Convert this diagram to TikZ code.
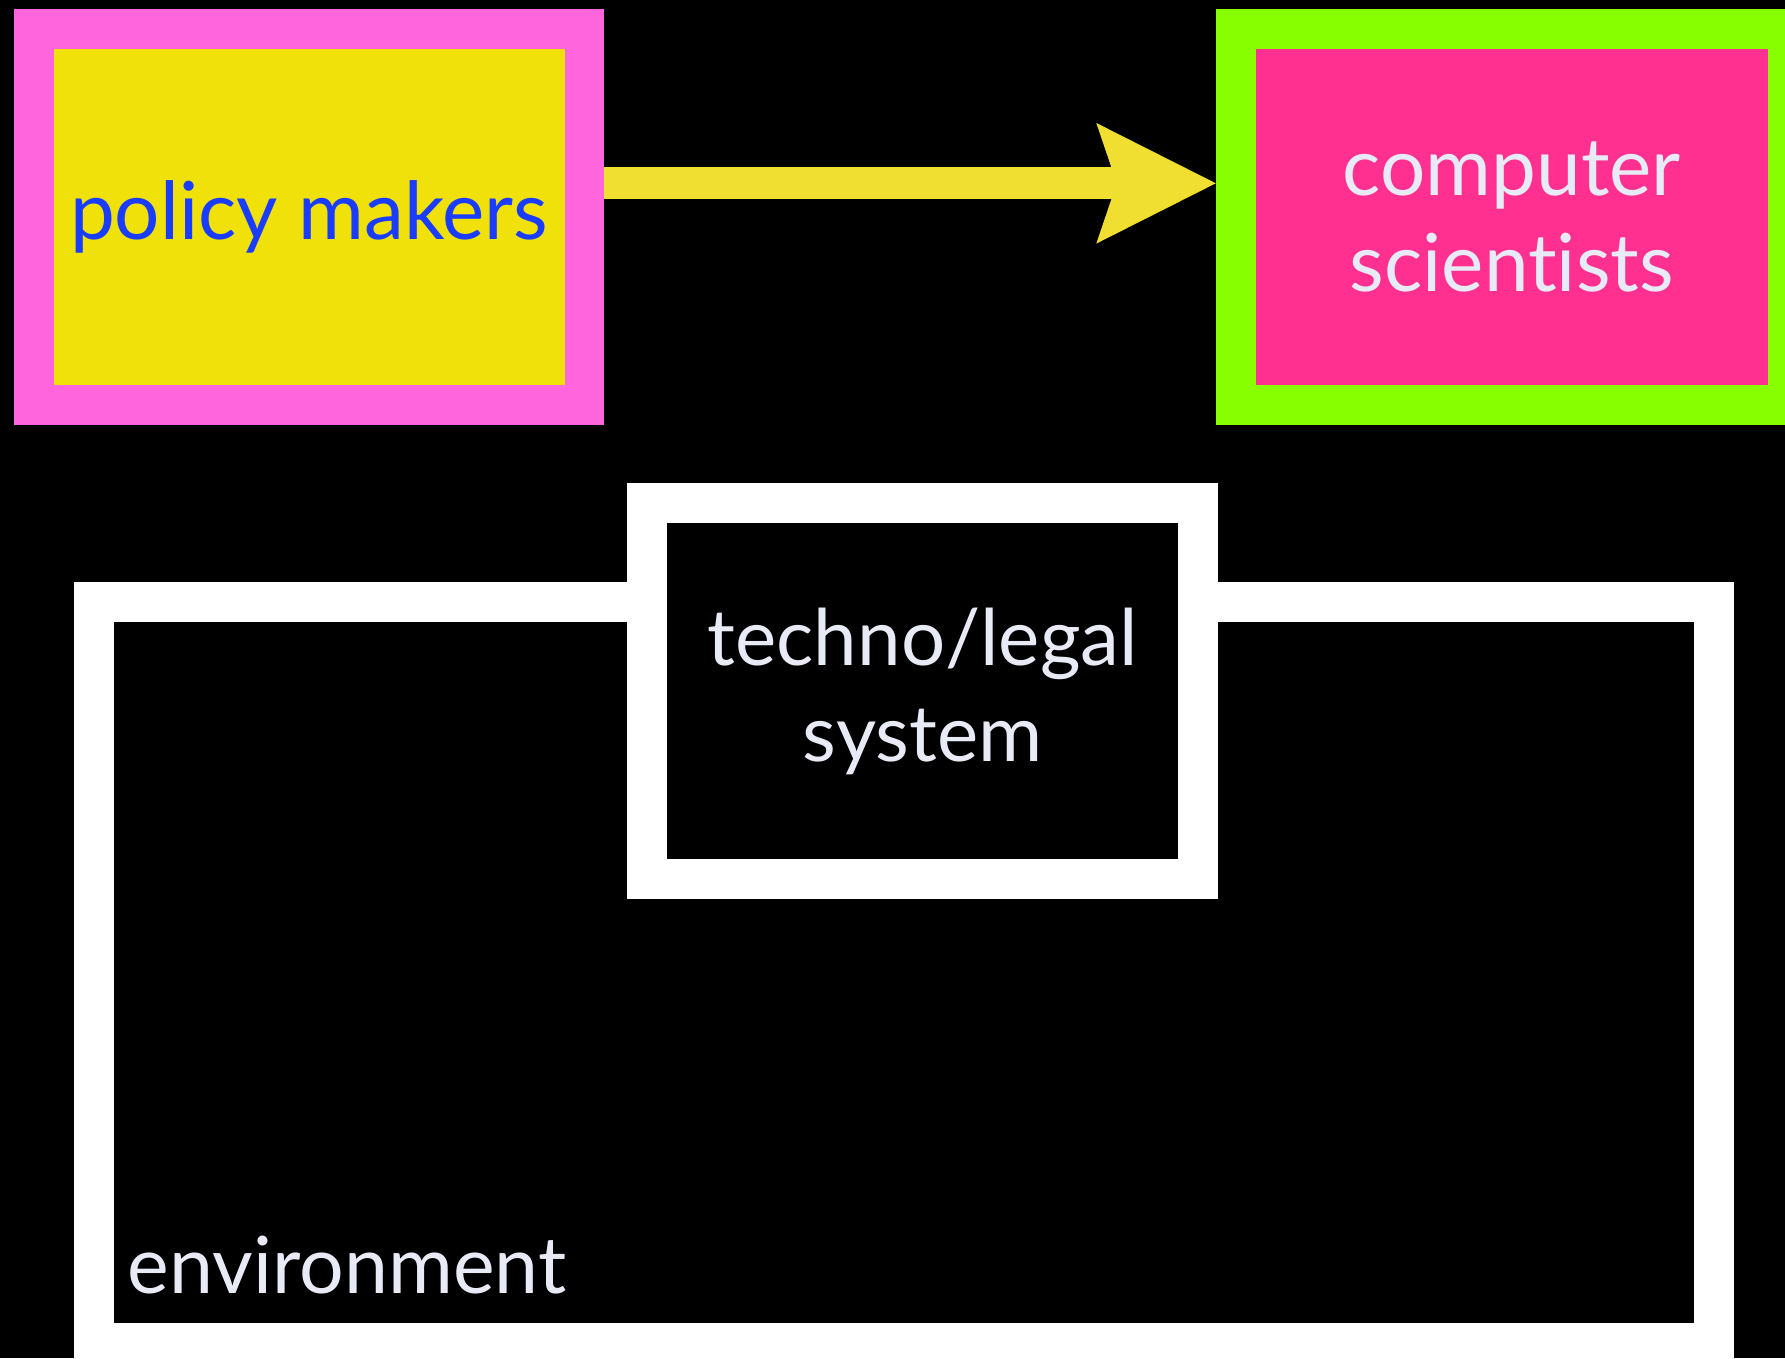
\documentclass[tikz,border=0pt]{standalone}
\usepackage{fontspec}
\setmainfont[Ligatures=NoCommon]{Lato}
\usepackage{xcolor}
\usetikzlibrary{arrows.meta}
\definecolor{pmpink}{HTML}{FF66DD}
\definecolor{pmyellow}{HTML}{F0E10A}
\definecolor{pmblue}{HTML}{1A3CFF}
\definecolor{csgreen}{HTML}{88FF00}
\definecolor{cspink}{HTML}{FF3090}
\definecolor{arrowyellow}{HTML}{F0DF30}
\definecolor{textwhite}{HTML}{E8EAF5}

\begin{document}
\begin{tikzpicture}[x=0.1mm, y=-0.1mm,
    box/.style={draw, line width=3.5mm, inner sep=0pt, minimum width=48.4mm, minimum height=33mm,
      align=center, font=\fontsize{20}{24}\selectfont},
    arr/.style={draw=arrowyellow, line width=2.8mm,
      -{Stealth[length=10.5mm, width=10.6mm, inset=1.8mm, line width=0pt]}}]
                \path[use as bounding box, fill=black] (0,0) rectangle (1568,1193);

                \node[box, draw=white, minimum width=142.3mm, minimum height=65.1mm] (env) at (794,854) {};
                \node[box, draw=white, fill=black, text=textwhite, font=\fontsize{19.5}{24}\selectfont] (TL) at (810.5,607) {techno/legal\\system};
                \node[anchor=base west, text=textwhite, font=\fontsize{19.7}{24}\selectfont] (envlabel) at (100,1136) {environment};

                \node[box, draw=pmpink, fill=pmyellow, text=pmblue] (PM) at (271.5,190.5) {policy makers};
                \node[box, draw=csgreen, fill=cspink, text=textwhite, minimum width=48.5mm] (CS) at (1328,190.5) {computer\\scientists};

                \draw[arr] ([yshift=2.95mm]PM.east) -- ([yshift=2.95mm]CS.west);
            \end{tikzpicture}
\end{document}
